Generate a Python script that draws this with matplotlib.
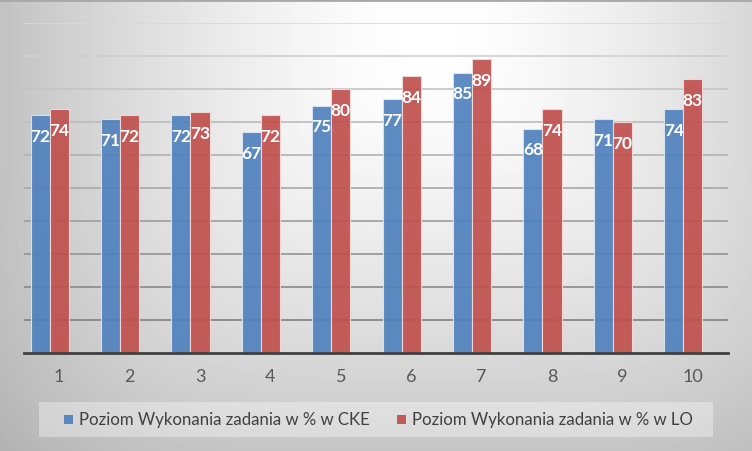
import matplotlib
matplotlib.use("Agg")
import matplotlib.pyplot as plt
import numpy as np
from matplotlib.patches import Rectangle
from matplotlib.lines import Line2D

# ---------------- data ----------------
categories = [1, 2, 3, 4, 5, 6, 7, 8, 9, 10]
cke = [72, 71, 72, 67, 75, 77, 85, 68, 71, 74]
lo = [74, 72, 73, 72, 80, 84, 89, 74, 70, 83]
series_names = ["Poziom Wykonania zadania w % w CKE",
                "Poziom Wykonania zadania w % w LO"]
series_colors = ["#4f81bd", "#c0504d"]
edge_colors = ["#dce6f2", "#f2dcdb"]

plt.rcParams["font.family"] = ["Lato", "DejaVu Sans"]

W, H = 752, 452
fig = plt.figure(figsize=(W / 100, H / 100), dpi=100)

# ---------------- background gradient ----------------
bg = fig.add_axes([0, 0, 1, 1], zorder=-5)
yy, xx = np.mgrid[0:H, 0:W]
d = ((np.abs(xx - 430) / 430) ** 4 + (np.abs(yy - 40) / 430) ** 4) ** 0.25
d = np.clip(d, 0, 1.2) ** 1.5
shade = 1.0 - 0.24 * d
bg.imshow(shade, cmap="gray", vmin=0, vmax=1, extent=(0, W, H, 0), aspect="auto",
          interpolation="bilinear")
bg.set_xlim(0, W); bg.set_ylim(H, 0); bg.axis("off")
bg.add_line(Line2D([0, W], [1, 1], color="#a8a8a8", lw=2))

# ---------------- plot area ----------------
ax = fig.add_axes([24 / W, (H - 354) / H, 704 / W, 330 / H])
ax.patch.set_alpha(0)
ax.set_xlim(0.5, 10.5)
ax.set_ylim(0, 100)

# gridlines, lighter towards the top
levels = np.arange(10, 101, 10)
for lev in levels:
    t = (lev - 10) / 90
    g = 0.50 + 0.35 * t
    ax.axhline(lev, color=(g, g, g), lw=1.2, zorder=1)

x = np.array(categories, dtype=float)
w = 0.27
for vals, off, c, ec in [(cke, -w, series_colors[0], edge_colors[0]),
                         (lo, 0.0, series_colors[1], edge_colors[1])]:
    ax.bar(x + off, vals, w, color=c, alpha=0.92, edgecolor=ec, lw=0.8, zorder=2)
    for xi, v in zip(x + off, vals):
        ax.annotate(str(v), (xi, v), xytext=(0, -15), textcoords="offset points",
                    ha="center", va="center", color="white", fontsize=12.5,
                    fontweight="bold", zorder=4)

ax.axhline(0, color="#404040", lw=2, zorder=3, clip_on=False)
for s in ax.spines.values():
    s.set_visible(False)
ax.set_yticks([])
ax.set_xticks(x)
ax.set_xticklabels([str(c) for c in categories])
ax.tick_params(axis="x", length=0, pad=11, labelsize=13, labelcolor="#595959")

# ---------------- legend ----------------
fig.patches.append(Rectangle((39 / W, (H - 438) / H), 674 / W, 35 / H,
                             transform=fig.transFigure, fc="white", alpha=0.35,
                             ec="none", zorder=1))
yc = (H - 420.5) / H
for mx, tx, name, c in [(64, 79, series_names[0], series_colors[0]),
                        (397, 412, series_names[1], series_colors[1])]:
    fig.patches.append(Rectangle((mx / W, yc - 4.5 / H), 9 / W, 9 / H,
                                 transform=fig.transFigure, fc=c, alpha=0.92,
                                 ec="none", zorder=2))
    fig.text(tx / W, yc, name, ha="left", va="center", fontsize=12.1,
             color="#404040")

fig.savefig("out.png", dpi=100)
